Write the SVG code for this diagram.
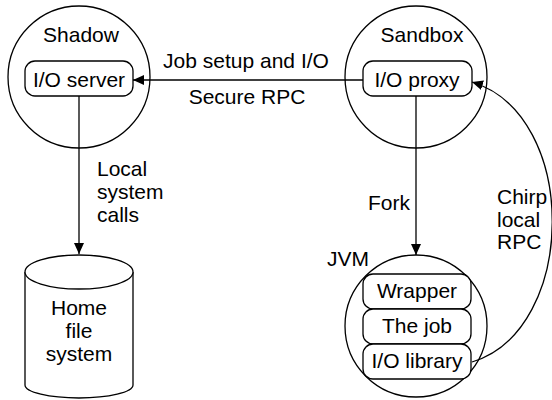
<svg xmlns="http://www.w3.org/2000/svg" width="552" height="400" viewBox="0 0 552 400">
<style>
  .ln { fill: none; stroke: #000; stroke-width: 1.3; }
  .shape { fill: #fff; stroke: #000; stroke-width: 1.3; }
  text { font-family: "Liberation Sans", Arial, Helvetica, sans-serif; font-size: 21px; fill: #000; }
  .c { text-anchor: middle; }
  .r { text-anchor: end; }
</style>
<defs>
  <marker id="arr" markerUnits="userSpaceOnUse" markerWidth="12" markerHeight="10" refX="11" refY="5" orient="auto">
    <path d="M0,0 L11,5 L0,10 Z" fill="#000"/>
  </marker>
</defs>

<g id="shadow">
  <circle class="shape" cx="79" cy="77" r="71"/>
  <text class="c" x="81" y="42">Shadow</text>
  <g id="io-server">
    <rect class="shape" x="25" y="61" width="108" height="35" rx="10"/>
    <text class="c" x="79" y="87">I/O server</text>
  </g>
</g>

<g id="sandbox">
  <circle class="shape" cx="416" cy="77" r="71"/>
  <text class="c" x="422" y="42">Sandbox</text>
  <g id="io-proxy">
    <rect class="shape" x="363" y="61" width="109" height="35" rx="10"/>
    <text class="c" x="417" y="87">I/O proxy</text>
  </g>
</g>

<g id="home-fs">
  <path class="shape" d="M25,272 L25,385 A54,13 0 0 0 133,385 L133,272"/>
  <ellipse class="shape" cx="79" cy="272" rx="54" ry="17"/>
  <text class="c" x="79" y="315">Home</text>
  <text class="c" x="79" y="338">file</text>
  <text class="c" x="79" y="361">system</text>
</g>

<g id="jvm">
  <circle class="shape" cx="416" cy="326" r="71"/>
  <text class="r" x="369" y="266">JVM</text>
  <g id="wrapper">
    <rect class="shape" x="363" y="274" width="108" height="35" rx="10"/>
    <text class="c" x="417" y="298">Wrapper</text>
  </g>
  <g id="the-job">
    <rect class="shape" x="363" y="309" width="108" height="35" rx="10"/>
    <text class="c" x="417" y="333">The job</text>
  </g>
  <g id="io-library">
    <rect class="shape" x="363" y="344" width="108" height="35" rx="10"/>
    <text class="c" x="417" y="368">I/O library</text>
  </g>
</g>

<g id="connectors">
  <line class="ln" x1="363" y1="80" x2="133" y2="80" marker-end="url(#arr)"/>
  <text class="c" x="246" y="68">Job setup and I/O</text>
  <text class="c" x="247" y="104">Secure RPC</text>

  <line class="ln" x1="79" y1="96" x2="79" y2="254" marker-end="url(#arr)"/>
  <text x="97" y="176">Local</text>
  <text x="97" y="199">system</text>
  <text x="97" y="222">calls</text>

  <line class="ln" x1="416" y1="96" x2="416" y2="255" marker-end="url(#arr)"/>
  <text class="r" x="410" y="210">Fork</text>

  <path class="ln" d="M472,362 C578,330 580,115 472,82" marker-end="url(#arr)"/>
  <text x="497" y="204">Chirp</text>
  <text x="497" y="227">local</text>
  <text x="497" y="249">RPC</text>
</g>
</svg>
